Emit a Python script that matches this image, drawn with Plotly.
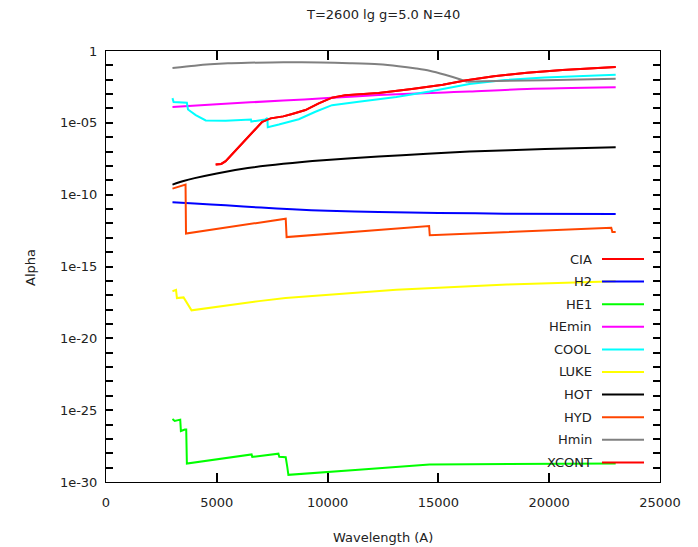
import plotly.graph_objects as go

# ---- data (log10 of alpha) ----
cia_x = [4950, 5200, 5400, 6000, 6600, 7050, 7430, 8000, 8400, 9000, 9600, 10200, 10800, 12300, 13800, 15200, 16200, 17500, 19000, 20600, 23000]
cia_lg = [-7.9, -7.86, -7.67, -6.67, -5.74, -4.93, -4.69, -4.55, -4.38, -4.11, -3.65, -3.25, -3.08, -2.93, -2.65, -2.35, -2.05, -1.75, -1.52, -1.33, -1.12]

h2_x = [3000, 4000, 5400, 7000, 8400, 10000, 12300, 15000, 18000, 23000]
h2_lg = [-10.53, -10.62, -10.74, -10.9, -11.02, -11.12, -11.2, -11.27, -11.32, -11.35]

he1_x = [3000, 3100, 3350, 3380, 3560, 3620, 3650, 6570, 6600, 7780, 7820, 8110, 8180, 8230, 11400, 14600, 23000]
he1_lg = [-25.62, -25.75, -25.66, -26.45, -26.35, -26.35, -28.72, -28.08, -28.25, -28.03, -28.25, -28.28, -28.95, -29.5, -29.15, -28.78, -28.72]

hemin_x = [3000, 5000, 8000, 10000, 12300, 15300, 16400, 19000, 23000]
hemin_lg = [-3.9, -3.7, -3.45, -3.28, -3.07, -2.88, -2.82, -2.65, -2.53]

cool_x = [3000, 3050, 3650, 3700, 4050, 4500, 5400, 6540, 6560, 7180, 7280, 7300, 7800, 8700, 9450, 10200, 11400, 12300, 13100, 14600, 16400, 18000, 19800, 23000]
cool_lg = [-3.28, -3.55, -3.6, -4.07, -4.46, -4.83, -4.86, -4.77, -4.91, -4.77, -4.66, -5.3, -5.12, -4.75, -4.23, -3.77, -3.53, -3.36, -3.2, -2.82, -2.3, -2.02, -1.85, -1.65]

luke_x = [3000, 3160, 3200, 3500, 3860, 5000, 6900, 8100, 11400, 13100, 18100, 23000]
luke_lg = [-16.72, -16.63, -17.2, -17.15, -18.05, -17.8, -17.41, -17.2, -16.83, -16.62, -16.25, -16.03]

hot_x = [3000, 3500, 4000, 5000, 6400, 8000, 9800, 12300, 14500, 16400, 19800, 23000]
hot_lg = [-9.3, -9.05, -8.85, -8.52, -8.15, -7.85, -7.6, -7.35, -7.15, -7.0, -6.83, -6.7]

hyd_x = [3000, 3590, 3610, 8110, 8150, 14580, 14610, 22800, 22850, 23000]
hyd_lg = [-9.58, -9.3, -12.71, -11.67, -12.95, -12.18, -12.83, -12.3, -12.6, -12.6]

hmin_x = [3000, 4000, 4700, 5500, 6400, 8000, 9700, 11000, 12300, 13200, 14000, 14600, 15300, 16000, 16300]
hmin_lg = [-1.18, -1.02, -0.93, -0.86, -0.82, -0.78, -0.8, -0.85, -0.93, -1.06, -1.22, -1.37, -1.65, -1.98, -2.14]
hmin2_x = [16300, 17000, 19800, 23000]
hmin2_lg = [-2.14, -2.1, -2.03, -1.93]

xcont_x = cia_x
xcont_lg = cia_lg

names = ["CIA", "H2", "HE1", "HEmin", "COOL", "LUKE", "HOT", "HYD", "Hmin", "XCONT"]
colors = ["#ff0000", "#0000ff", "#00ff00", "#ff00ff", "#00ffff", "#ffff00", "#000000", "#ff4500", "#808080", "#ff0000"]
series = [(cia_x, cia_lg), (h2_x, h2_lg), (he1_x, he1_lg), (hemin_x, hemin_lg), (cool_x, cool_lg),
          (luke_x, luke_lg), (hot_x, hot_lg), (hyd_x, hyd_lg), (hmin_x, hmin_lg), (xcont_x, xcont_lg)]
smooth = {"H2", "HEmin", "HOT"}

x_ticks = [0, 5000, 10000, 15000, 20000, 25000]
y_decades = list(range(-30, 1))
y_labels = {-30: "1e-30", -25: "1e-25", -20: "1e-20", -15: "1e-15", -10: "1e-10", -5: "1e-05", 0: "1"}

FONT = "DejaVu Sans"
TXT = "#222222"

fig = go.Figure()
for name, col, (xs, lg) in zip(names, colors, series):
    if name == "Hmin":
        fig.add_trace(go.Scatter(x=xs, y=[10 ** v for v in lg], mode="lines", name=name,
                                 line=dict(color=col, width=2, shape="spline", smoothing=0.8), showlegend=False))
        fig.add_trace(go.Scatter(x=hmin2_x, y=[10 ** v for v in hmin2_lg], mode="lines", name=name,
                                 line=dict(color=col, width=2), showlegend=False))
        continue
    shape = dict(shape="spline", smoothing=0.8) if name in smooth else {}
    fig.add_trace(go.Scatter(x=xs, y=[10 ** v for v in lg], mode="lines", name=name,
                             line=dict(color=col, width=2, **shape), showlegend=False))

W, H = 698, 547
L, R, T, B = 106, 38, 51, 65
pw, ph = W - L - R, H - T - B

tickvals_y = [10 ** v for v in y_decades]
ticktext_y = [y_labels.get(v, "") for v in y_decades]

fig.update_layout(
    width=W, height=H, margin=dict(l=L, r=R, t=T, b=B),
    plot_bgcolor="white", paper_bgcolor="white",
    font=dict(family=FONT, size=13, color=TXT),
    xaxis=dict(range=[0, 25000], tickmode="array", tickvals=x_ticks, ticktext=[str(v) for v in x_ticks],
               ticks="inside", ticklen=9, tickcolor="#000000", tickwidth=1.5,
               showline=True, linecolor="#000000", linewidth=1, mirror="allticks",
               showgrid=False, zeroline=False, ticklabelstandoff=8),
    yaxis=dict(type="log", range=[-30, 0], tickmode="array", tickvals=tickvals_y, ticktext=ticktext_y,
               ticks="inside", ticklen=7, tickcolor="#000000", tickwidth=1.5,
               showline=True, linecolor="#000000", linewidth=1, mirror="allticks",
               showgrid=False, zeroline=False, ticklabelstandoff=5),
)

ann = [
    dict(text="T=2600 lg g=5.0 N=40", x=(383 - L) / pw, y=(T + ph - 15) / ph, xref="paper", yref="paper",
         xanchor="center", yanchor="middle", showarrow=False, font=dict(size=13)),
    dict(text="Wavelength (A)", x=(383 - L) / pw, y=-(537 - (T + ph)) / ph, xref="paper", yref="paper",
         xanchor="center", yanchor="middle", showarrow=False, font=dict(size=13)),
    dict(text="Alpha", x=-(L - 30) / pw, y=(T + ph - 268) / ph, xref="paper", yref="paper",
         xanchor="center", yanchor="middle", showarrow=False, textangle=-90, font=dict(size=13)),
]

shapes = []
for i, (name, col) in enumerate(zip(names, colors)):
    py = 259 + 22.6 * i
    yp = (T + ph - py) / ph
    ann.append(dict(text=name, x=(594 - L) / pw, y=yp, xref="paper", yref="paper", xanchor="right",
                    yanchor="middle", showarrow=False, font=dict(size=13)))
    shapes.append(dict(type="line", xref="paper", yref="paper", x0=(602 - L) / pw, x1=(644 - L) / pw,
                       y0=yp, y1=yp, line=dict(color=col, width=2)))

fig.update_layout(annotations=ann, shapes=shapes)
fig.write_html("out.html")
